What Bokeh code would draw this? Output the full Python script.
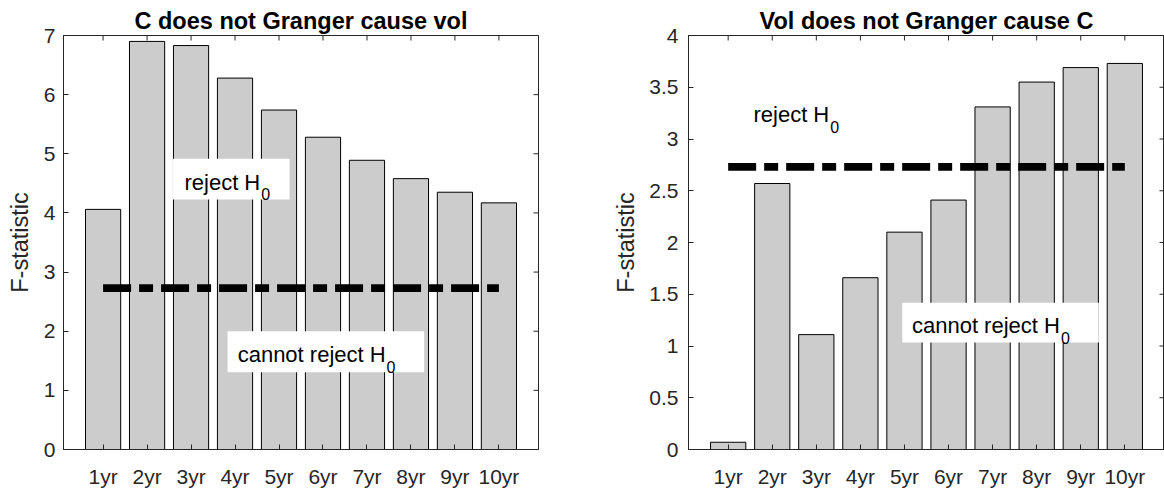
import math
from bokeh.plotting import figure
from bokeh.models import Range1d, FixedTicker, Label, BoxAnnotation
from bokeh.layouts import row
from bokeh.embed import file_html
from bokeh.resources import INLINE

# ---------------- data ----------------
categories = ["1yr", "2yr", "3yr", "4yr", "5yr", "6yr", "7yr", "8yr", "9yr", "10yr"]
f_c_causes_vol = [4.06, 6.90, 6.83, 6.28, 5.74, 5.28, 4.89, 4.58, 4.35, 4.17]
f_vol_causes_c = [0.07, 2.57, 1.11, 1.66, 2.10, 2.41, 3.31, 3.55, 3.69, 3.73]
critical_value = 2.73
left_yticks = [0, 1, 2, 3, 4, 5, 6, 7]
left_ytick_labels = ["0", "1", "2", "3", "4", "5", "6", "7"]
right_yticks = [0, 0.5, 1, 1.5, 2, 2.5, 3, 3.5, 4]
right_ytick_labels = ["0", "0.5", "1", "1.5", "2", "2.5", "3", "3.5", "4"]

FONT = "Liberation Sans"
AX = "#262626"
TICK_FS = 21
ANN_FS = 22
LABEL_FS = "23.5px"
SUB_FS = "16px"

# Arial/Liberation Sans advance widths (per em) for subscript placement
ADV = {"r": .333, "e": .556, "j": .222, "c": .5, "t": .278, " ": .278,
       "H": .722, "a": .556, "n": .556, "o": .556}


def text_width(s, fs):
    return sum(ADV[ch] for ch in s) * fs


def style_axis(ax, ticks, overrides, standoff):
    ax.ticker = FixedTicker(ticks=ticks)
    ax.major_label_overrides = overrides
    ax.major_tick_in = 5
    ax.major_tick_out = 0
    ax.minor_tick_in = 0
    ax.minor_tick_out = 0
    ax.axis_line_color = AX
    ax.major_tick_line_color = AX
    ax.major_label_text_font = FONT
    ax.major_label_text_color = AX
    ax.major_label_text_font_size = f"{TICK_FS}px"
    ax.major_label_standoff = standoff


def make_panel(title, values, yticks, ytick_labels, ymax, width, mbl, mbr,
               ylab_standoff, ylab_axis_standoff, annotations):
    xs = list(range(1, len(categories) + 1))
    xr = Range1d(0.1, 10.9)
    p = figure(width=width, height=490, x_range=xr,
               y_range=Range1d(0, ymax), output_backend="svg",
               toolbar_location=None, min_border_left=mbl,
               min_border_right=mbr, min_border_top=35, min_border_bottom=41,
               background_fill_color="white", border_fill_color="white",
               outline_line_color=AX)
    p.xgrid.visible = False
    p.ygrid.visible = False

    p.vbar(x=xs, top=values, bottom=0, width=0.8, fill_color="#cccccc",
           line_color="black", line_width=1)
    p.line(x=[xs[0], xs[-1]], y=[critical_value, critical_value],
           line_color="black", line_width=7.7, line_dash="28 8 14 8",
           line_cap="butt")

    # mirrored inward tick marks on the top and right edges of the box
    p.scatter(x=xs, y=[ymax] * len(xs), marker="dash", size=10,
              angle=math.pi / 2, line_color=AX, line_width=1)
    p.scatter(x=[xr.end] * len(yticks), y=yticks, marker="dash", size=10,
              line_color=AX, line_width=1)

    xover = {x: c for x, c in zip(xs, categories)}
    yover = {y: l for y, l in zip(yticks, ytick_labels)}
    style_axis(p.xaxis[0], xs, xover, 15)
    style_axis(p.yaxis[0], yticks, yover, ylab_standoff)
    p.yaxis[0].axis_label = "F-statistic"
    p.yaxis[0].axis_label_text_font = FONT
    p.yaxis[0].axis_label_text_font_size = LABEL_FS
    p.yaxis[0].axis_label_text_font_style = "normal"
    p.yaxis[0].axis_label_text_color = AX
    p.yaxis[0].axis_label_standoff = ylab_axis_standoff

    p.title.text = title
    p.title.text_font = FONT
    p.title.text_font_style = "bold"
    p.title.text_font_size = LABEL_FS
    p.title.text_color = "black"
    p.title.align = "center"
    p.title.standoff = 3

    for ann in annotations:
        txt, tx, ty, box = ann
        if box is not None:
            bl, br, bb, bt = box
            p.add_layout(BoxAnnotation(left=bl, right=br, bottom=bb, top=bt,
                                       fill_color="white", fill_alpha=1.0,
                                       line_color=None, level="annotation"))
        p.add_layout(Label(x=tx, y=ty, text=txt, text_font=FONT,
                           text_font_size=f"{ANN_FS}px", text_color="black",
                           text_baseline="alphabetic", text_align="left",
                           y_offset=7))
        p.add_layout(Label(x=tx, y=ty, text="0", text_font=FONT,
                           text_font_size=SUB_FS, text_color="black",
                           text_baseline="alphabetic", text_align="left",
                           x_offset=text_width(txt, ANN_FS) + 1,
                           y_offset=-5))
    return p


left = make_panel("C does not Granger cause vol", f_c_causes_vol,
                  left_yticks, left_ytick_labels, 7, 600, 63, 62, 8, 8,
                  [("reject H", 2.85, 4.40, (2.59, 5.24, 4.229, 4.916)),
                   ("cannot reject H", 4.06, 1.48, (3.83, 8.30, 1.306, 2.0))])
right = make_panel("Vol does not Granger cause C", f_vol_causes_c,
                   right_yticks, right_ytick_labels, 4, 564, 88, 0, 10, 7,
                   [("reject H", 1.574, 3.169, None),
                    ("cannot reject H", 5.17, 1.129, (4.95, 9.41, 1.033, 1.419))])

layout = row(left, right, spacing=0)
open("out.html", "w").write(file_html(layout, INLINE))
